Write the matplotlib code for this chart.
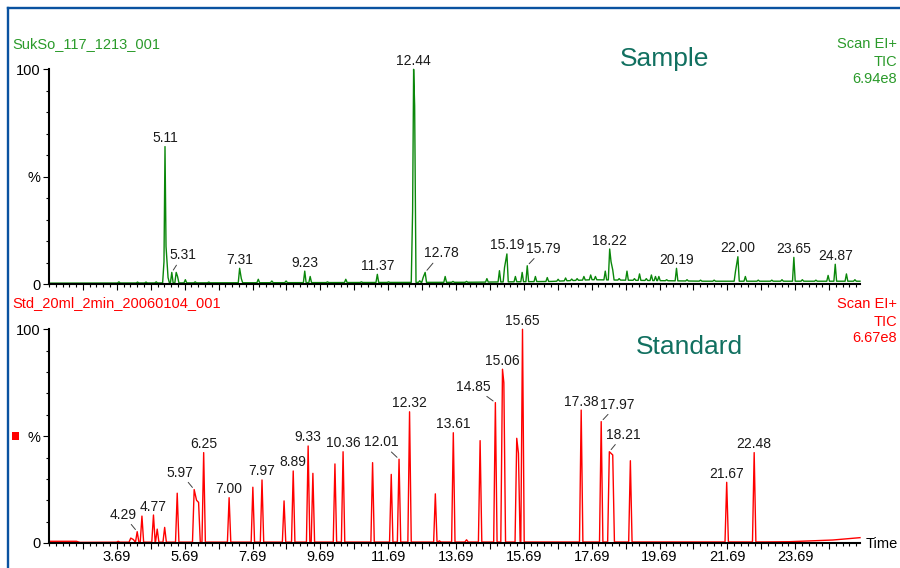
import matplotlib
matplotlib.use("Agg")
import matplotlib.pyplot as plt
import numpy as np
from matplotlib.lines import Line2D
from matplotlib.patches import Rectangle

plt.rcParams['font.family'] = ['Liberation Sans', 'DejaVu Sans']

# --- sample run (TIC, % of 6.94e8) ---
sample_base_t = [1.69, 5.0, 8.0, 14.0, 16.5, 17.7, 19.5, 21.0, 24.0, 25.6]
sample_base_v = [0.4, 0.5, 0.6, 0.8, 1.2, 2.0, 1.6, 1.3, 1.3, 1.3]
sample_peak_t = [3.75, 4.30, 4.55, 4.85, 5.08, 5.11, 5.14, 5.20, 5.31, 5.44, 5.48,
                 5.71, 6.00, 6.40, 7.31, 7.36, 7.86, 8.26, 8.68, 9.23, 9.39, 9.90,
                 10.44, 10.90, 11.37, 11.70, 12.41, 12.44, 12.47, 12.62, 12.72, 12.78,
                 13.37, 13.60, 14.00, 14.60, 14.97, 15.12, 15.19, 15.44, 15.64, 15.79,
                 16.03, 16.38, 16.70, 16.92, 17.10, 17.26, 17.46, 17.66, 17.80, 18.09,
                 18.22, 18.26, 18.31, 18.50, 18.73, 18.95, 19.10, 19.30, 19.45, 19.57,
                 19.67, 19.90, 20.19, 20.50, 20.90, 21.30, 21.93, 22.00, 22.22, 22.60,
                 23.00, 23.30, 23.65, 23.90, 24.30, 24.66, 24.87, 25.20, 25.45]
sample_peak_h = [1.0, 0.9, 0.9, 1.0, 10.4, 64.0, 17.5, 3.0, 5.4, 5.4, 3.5,
                 2.0, 1.0, 0.9, 7.3, 2.5, 2.2, 1.4, 1.4, 6.0, 3.5, 1.0,
                 2.2, 1.0, 4.5, 1.0, 34.0, 100.0, 83.0, 1.5, 3.0, 5.4,
                 3.5, 1.2, 1.2, 2.5, 6.2, 7.7, 14.0, 3.5, 5.4, 8.5,
                 3.5, 3.0, 2.2, 2.8, 2.3, 2.5, 3.5, 4.2, 3.5, 6.0,
                 16.3, 10.4, 6.6, 2.5, 6.0, 2.5, 4.7, 2.5, 4.2, 3.5,
                 3.5, 2.0, 7.3, 2.0, 1.8, 1.8, 6.0, 12.7, 3.5, 1.8,
                 1.8, 2.0, 12.4, 2.0, 1.8, 4.0, 9.2, 4.7, 2.0]
sample_labels = [5.11, 5.31, 7.31, 9.23, 11.37, 12.44, 12.78, 15.19, 15.79,
                 18.22, 20.19, 22.00, 23.65, 24.87]

# --- standard run (TIC, % of 6.67e8) ---
std_base_t = [1.69, 2.5, 2.6, 3.5, 22.8, 23.5, 24.8, 25.6]
std_base_v = [0.8, 0.8, 0.3, 0.4, 0.5, 0.6, 1.4, 2.5]
std_peak_t = [3.73, 4.10, 4.18, 4.29, 4.43, 4.77, 4.88, 5.10, 5.47, 5.97, 6.04,
              6.10, 6.25, 7.00, 7.70, 7.97, 8.62, 8.89, 9.33, 9.47, 10.12, 10.36,
              11.23, 11.78, 12.01, 12.32, 13.08, 13.20, 13.61, 14.00, 14.40, 14.85,
              15.06, 15.10, 15.48, 15.53, 15.65, 17.38, 17.97, 18.21, 18.31, 18.83,
              21.67, 22.48]
std_peak_h = [0.8, 2.3, 1.6, 5.3, 12.6, 13.1, 6.5, 7.3, 23.3, 25.0, 20.0,
              19.0, 42.3, 21.2, 26.1, 29.5, 19.7, 33.7, 45.4, 32.6, 37.0, 42.7,
              37.6, 32.1, 39.2, 61.4, 23.0, 1.0, 51.6, 1.5, 47.9, 65.7,
              81.3, 75.0, 49.0, 42.0, 100.0, 62.2, 56.8, 42.7, 41.2, 38.5,
              28.4, 42.3]
std_labels = [4.29, 4.77, 5.97, 6.25, 7.00, 7.97, 8.89, 9.33, 10.36, 12.01, 12.32,
              13.61, 14.85, 15.06, 15.65, 17.38, 17.97, 18.21, 21.67, 22.48]

time_labels = [3.69, 5.69, 7.69, 9.69, 11.69, 13.69, 15.69, 17.69, 19.69, 21.69, 23.69]

# labels pushed aside with a leader line: (dx, dy) in pixels from the apex
sample_leaders = {5.31: (11, 17), 12.78: (16, 19), 15.79: (16, 17)}
std_leaders = {4.29: (-14, 17), 5.97: (-14, 17), 12.01: (-18, 17),
               14.85: (-22, 16), 17.97: (16, 17), 18.21: (14, 17)}

W, H = 900, 568
PT = 0.72  # points per pixel at 100 dpi

GREEN = '#0a870a'
GREEN_TXT = '#2a9a2a'
RED = '#ff0000'
TEAL = '#117060'
BLUE = '#0a52a0'
INK = '#1a1a1a'


def fx(x):
    return x / W


def fy(y):
    return 1 - y / H


def build_trace(base_t, base_v, pk_t, pk_h, half):
    pts = sorted(zip(pk_t, pk_h))
    xs, ys = [], []
    for i, (t, h) in enumerate(pts):
        if i == 0 or t - pts[i - 1][0] > 2 * half:
            xs.append(t - half)
            ys.append(np.interp(t - half, base_t, base_v))
        xs.append(t)
        ys.append(h)
        if i == len(pts) - 1 or pts[i + 1][0] - t > 2 * half:
            xs.append(t + half)
            ys.append(np.interp(t + half, base_t, base_v))
    for t, v in zip(base_t, base_v):
        if all(abs(t - p) > half for p, _ in pts):
            xs.append(t)
            ys.append(v)
    order = np.argsort(xs, kind='stable')
    return np.array(xs)[order], np.array(ys)[order]


def style_axis(ax, show_labels):
    ax.set_xlim(1.69, 25.6)
    ax.set_ylim(0, 100)
    for s in ('top', 'right'):
        ax.spines[s].set_visible(False)
    for s in ('left', 'bottom'):
        ax.spines[s].set_linewidth(1.5)
    ax.patch.set_alpha(0)
    majors = np.arange(2.69, 25.6, 1.0)
    ax.set_xticks(majors)
    if show_labels:
        ax.set_xticklabels(['%.2f' % m if any(abs(m - l) < 1e-6 for l in time_labels) else ''
                            for m in majors])
    else:
        ax.set_xticklabels([])
    ax.set_xticks(np.arange(1.69, 25.6, 0.2), minor=True)
    ax.set_yticks([0, 50, 100])
    ax.set_yticklabels(['0', '%', '100'])
    ax.set_yticks(np.arange(0, 101, 10), minor=True)
    ax.tick_params(which='major', length=6 * PT, width=0.8, pad=2.2 * PT,
                   labelsize=10.5, colors='black')
    ax.tick_params(which='minor', length=3 * PT, width=0.8)
    ax.tick_params(axis='x', which='major', pad=0.5)


def label_peaks(ax, labels, pk_t, pk_h, leaders):
    for t in labels:
        i = int(np.argmin(np.abs(np.array(pk_t) - t)))
        h = pk_h[i]
        if t in leaders:
            dx, dy = leaders[t]
            ax.annotate('%.2f' % t, xy=(t, h), xytext=(dx * PT, dy * PT),
                        textcoords='offset points', ha='center', va='center',
                        fontsize=10, color=INK, annotation_clip=False,
                        arrowprops=dict(arrowstyle='-', color='#404040', lw=0.7,
                                        shrinkA=0, shrinkB=2))
        else:
            ax.annotate('%.2f' % t, xy=(t, h), xytext=(0, 8.5 * PT),
                        textcoords='offset points', ha='center', va='center',
                        fontsize=10, color=INK, annotation_clip=False)


fig = plt.figure(figsize=(9, 5.68), dpi=100)

ax_top = fig.add_axes([fx(49), fy(284), fx(811), 214.7 / H])
ax_bot = fig.add_axes([fx(49), fy(543), fx(811), 213.7 / H])

st_x, st_y = build_trace(sample_base_t, sample_base_v, sample_peak_t, sample_peak_h, 0.04)
ax_top.plot(st_x, st_y, color=GREEN, lw=1.0, clip_on=False)
style_axis(ax_top, False)
label_peaks(ax_top, sample_labels, sample_peak_t, sample_peak_h, sample_leaders)

sd_x, sd_y = build_trace(std_base_t, std_base_v, std_peak_t, std_peak_h, 0.05)
ax_bot.plot(sd_x, sd_y, color=RED, lw=1.0, clip_on=False)
style_axis(ax_bot, True)
label_peaks(ax_bot, std_labels, std_peak_t, std_peak_h, std_leaders)

# run headers
fig.text(fx(12), fy(48.5), 'SukSo_117_1213_001', color=GREEN_TXT, fontsize=10.5, va='baseline')
fig.text(fx(12), fy(307.5), 'Std_20ml_2min_20060104_001', color=RED, fontsize=10.5, va='baseline')
for i, s in enumerate(['Scan EI+', 'TIC', '6.94e8']):
    fig.text(fx(897), fy(48.5 + 17 * i), s, color=GREEN_TXT, fontsize=10.5,
             ha='right', va='baseline')
for i, s in enumerate(['Scan EI+', 'TIC', '6.67e8']):
    fig.text(fx(897), fy(308.5 + 17 * i), s, color=RED, fontsize=10.5,
             ha='right', va='baseline')

fig.text(fx(664.5), fy(66), 'Sample', color=TEAL, fontsize=19, ha='center', va='baseline')
fig.text(fx(689.5), fy(354), 'Standard', color=TEAL, fontsize=19, ha='center', va='baseline')
fig.text(fx(866), fy(544), 'Time', color='black', fontsize=10.5, ha='left', va='center')

# red trace marker next to the lower % label
fig.add_artist(Rectangle((fx(12), fy(440)), 7 / W, 8 / H, transform=fig.transFigure,
                         facecolor=RED, edgecolor='none'))

# window frame
fig.add_artist(Line2D([fx(7.8), fx(7.8)], [fy(7.8), 0], color=BLUE, lw=1.7,
                      transform=fig.transFigure))
fig.add_artist(Line2D([fx(7.8), 1], [fy(7.8), fy(7.8)], color=BLUE, lw=1.7,
                      transform=fig.transFigure))

fig.savefig('out.png', dpi=100)
